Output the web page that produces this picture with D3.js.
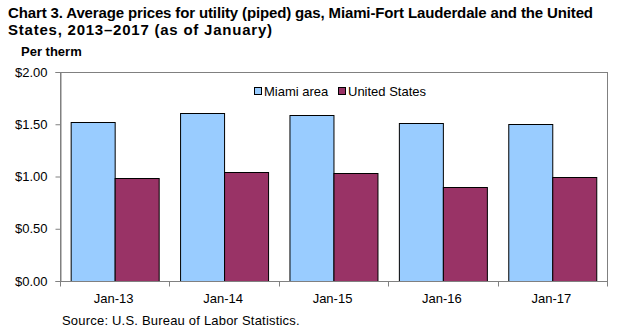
<!DOCTYPE html>
<html>
<head>
<meta charset="utf-8">
<script src="https://cdn.jsdelivr.net/npm/d3@7"></script>
<style>
  body { margin: 0; background: #fff; }
  svg { display: block; font-family: "Liberation Sans", Arial, sans-serif; }
</style>
</head>
<body>
<div id="chart"></div>
<script>
// Average price per therm, January of each year
var months = ["Jan-13", "Jan-14", "Jan-15", "Jan-16", "Jan-17"];
var miami = [1.52, 1.61, 1.59, 1.51, 1.50];
var unitedStates = [0.99, 1.04, 1.03, 0.90, 1.00];
var seriesNames = ["Miami area", "United States"];
var seriesColors = ["#99ccff", "#993366"];
var yTicks = [0, 0.5, 1.0, 1.5, 2.0];

var W = 625, H = 335;
var margin = { top: 72, right: 18, bottom: 54, left: 60 },
    width = W - margin.left - margin.right,
    height = H - margin.top - margin.bottom;

var svg = d3.select("#chart")
    .append("svg")
    .attr("width", W)
    .attr("height", H);

// Title (two lines)
var title = svg.append("text")
    .style("font-size", "15px")
    .style("font-weight", "bold");
title.append("tspan").attr("x", 8).attr("y", 18)
    .attr("textLength", 585)
    .attr("lengthAdjust", "spacing")
    .text("Chart 3. Average prices for utility (piped) gas, Miami-Fort Lauderdale and the United");
title.append("tspan").attr("x", 8).attr("y", 35)
    .attr("textLength", 264)
    .attr("lengthAdjust", "spacing")
    .text("States, 2013\u20132017  (as of January)");

svg.append("text")
    .attr("x", 21)
    .attr("y", 56)
    .style("font-size", "13px")
    .style("font-weight", "bold")
    .text("Per therm");

var g = svg.append("g")
    .attr("transform", "translate(" + margin.left + "," + margin.top + ")");

var x0 = d3.scaleBand()
    .domain(months)
    .range([0, width])
    .paddingInner(0.195)
    .paddingOuter(0.0975);

var x1 = d3.scaleBand()
    .domain(seriesNames)
    .range([0, x0.bandwidth()]);

var y = d3.scaleLinear()
    .domain([0, 2])
    .range([height, 0]);

// Plot frame
g.append("rect")
    .attr("x", 0.5)
    .attr("y", 0.5)
    .attr("width", width)
    .attr("height", height)
    .attr("fill", "none")
    .attr("stroke", "#808080");

// Bars
var rows = months.map(function (m, i) {
    return { month: m, values: [miami[i], unitedStates[i]] };
});

var groups = g.selectAll(".grp")
    .data(rows)
    .enter()
    .append("g")
    .attr("transform", function (d) { return "translate(" + x0(d.month) + ",0)"; });

groups.selectAll("rect")
    .data(function (d) {
        return d.values.map(function (v, j) { return { key: seriesNames[j], value: v, i: j }; });
    })
    .enter()
    .append("rect")
    .attr("x", function (d) { return Math.round(x1(d.key)) + 0.5; })
    .attr("y", function (d) { return Math.round(y(d.value)) + 0.5; })
    .attr("width", function (d) { return Math.round(x1.bandwidth()); })
    .attr("height", function (d) { return height - Math.round(y(d.value)); })
    .attr("fill", function (d) { return seriesColors[d.i]; })
    .attr("stroke", "#000")
    .attr("stroke-width", 1);

// Y axis
var yAxis = g.append("g")
    .attr("transform", "translate(0.5,0)")
    .call(d3.axisLeft(y)
        .tickValues(yTicks)
        .tickSize(5)
        .tickPadding(8)
        .tickFormat(function (d) { return "$" + d3.format(".2f")(d); }));
yAxis.select(".domain").attr("stroke", "#808080");
yAxis.selectAll(".tick line").attr("stroke", "#808080");
yAxis.selectAll(".tick text")
    .style("font-size", "13px")
    .style("font-family", "\"Liberation Sans\", Arial, sans-serif")
    .attr("fill", "#000");

// X axis: ticks on category boundaries
var bounds = months.map(function (m, i) { return i * x0.step(); }).concat([width]);
var xAxis = g.append("g")
    .attr("transform", "translate(0," + (height + 0.5) + ")");
xAxis.append("line")
    .attr("x1", 0).attr("x2", width)
    .attr("stroke", "#808080");
xAxis.selectAll(".bt")
    .data(bounds)
    .enter()
    .append("line")
    .attr("x1", function (d) { return Math.round(d) + 0.5; })
    .attr("x2", function (d) { return Math.round(d) + 0.5; })
    .attr("y1", 0).attr("y2", 5)
    .attr("stroke", "#808080");
xAxis.selectAll(".lbl")
    .data(months)
    .enter()
    .append("text")
    .attr("x", function (d) { return x0(d) + x0.bandwidth() / 2 - 1; })
    .attr("y", 21)
    .attr("text-anchor", "middle")
    .style("font-size", "13px")
    .text(function (d) { return d; });

// Legend
var legend = svg.append("g");
var legendX = [254, 338];
seriesNames.forEach(function (name, i) {
    legend.append("rect")
        .attr("x", legendX[i] + 0.5)
        .attr("y", 87.5)
        .attr("width", 7)
        .attr("height", 7)
        .attr("fill", seriesColors[i])
        .attr("stroke", "#000");
    legend.append("text")
        .attr("x", legendX[i] + 10)
        .attr("y", 95.5)
        .style("font-size", "13px")
        .text(name);
});

// Source note
svg.append("text")
    .attr("x", 62)
    .attr("y", 325)
    .style("font-size", "13px")
    .style("letter-spacing", "0.2px")
    .text("Source: U.S. Bureau of Labor Statistics.");
</script>
</body>
</html>
